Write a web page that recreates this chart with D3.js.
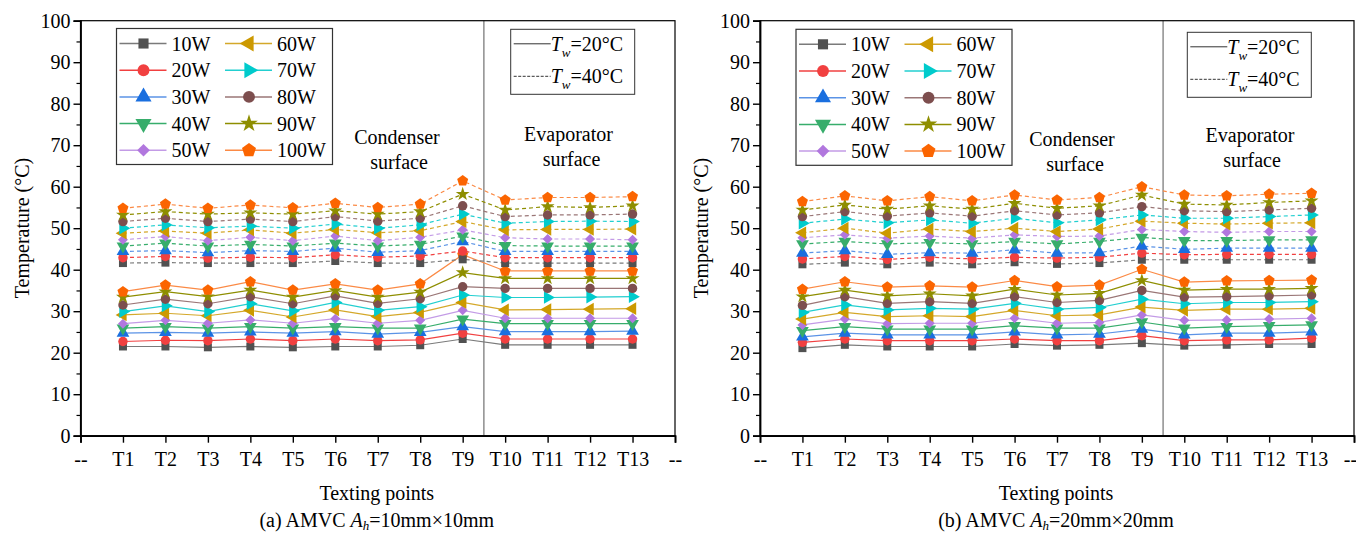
<!DOCTYPE html>
<html>
<head>
<meta charset="utf-8">
<script src="https://cdn.jsdelivr.net/npm/d3@7"></script>
<style>
  body { margin: 0; background: #fff; }
  svg { display: block; font-family: "Liberation Serif", "Times New Roman", serif; }
</style>
</head>
<body>
<svg id="chart" width="1356" height="534"></svg>
<script>
// Testing points along the AMVC
var points = ["T1","T2","T3","T4","T5","T6","T7","T8","T9","T10","T11","T12","T13"];
var powers = ["10W","20W","30W","40W","50W","60W","70W","80W","90W","100W"];
var colors = ["#515151","#F14040","#1A6FDF","#37AD6B","#B177DE","#CC9900","#00CBCC","#7D4E4E","#8E8E00","#FB6501"];
var lineColors = ["#7a7a7a","#F14040","#5b93e6","#37AD6B","#c39be6","#d4a82a","#22cfd0","#9a7676","#8E8E00","#fb8a45"];

// (a) Ah = 10mm x 10mm, Tw = 20 C (solid)
var a20 = [
  [21.5,21.5,21.3,21.5,21.3,21.5,21.5,21.8,23.3,21.9,21.9,21.9,21.9],
  [22.7,23.0,22.9,23.3,22.9,23.3,22.9,23.1,24.7,23.3,23.3,23.3,23.3],
  [24.7,24.9,24.7,25.0,24.7,25.1,24.5,24.9,26.3,25.1,25.1,25.1,25.2],
  [25.9,26.3,25.9,26.3,25.9,26.3,25.9,25.9,28.1,27.0,27.0,27.0,27.0],
  [27.0,27.8,27.1,27.9,27.1,28.2,27.1,27.8,30.2,28.3,28.3,28.3,28.3],
  [29.1,29.5,28.9,30.2,28.6,30.3,28.7,29.7,32.1,30.3,30.4,30.5,30.6],
  [29.9,31.3,29.9,31.8,30.1,32.1,30.2,31.1,33.9,33.3,33.3,33.4,33.5],
  [31.5,32.9,31.8,33.5,31.8,33.7,31.9,33.0,35.9,35.5,35.5,35.5,35.5],
  [33.4,34.7,33.5,35.1,33.4,35.0,33.4,34.6,39.3,37.9,37.9,37.9,37.9],
  [34.7,36.3,35.1,37.1,35.1,36.6,35.1,36.6,43.6,39.7,39.7,39.7,39.7]
];
// (a) Tw = 40 C (dashed)
var a40 = [
  [41.6,41.7,41.6,41.6,41.6,42.1,41.6,41.6,42.5,41.6,41.6,41.6,41.6],
  [42.9,43.2,42.8,43.0,42.9,43.6,43.0,43.3,44.5,42.9,42.9,42.9,42.9],
  [44.4,44.6,44.1,44.6,44.4,45.2,44.2,44.6,46.8,44.4,44.4,44.4,44.4],
  [45.7,46.4,45.7,46.1,45.7,46.4,45.7,46.1,48.1,45.8,45.7,45.7,45.7],
  [47.2,48.0,47.0,47.8,47.0,48.1,47.0,47.8,49.6,47.7,47.4,47.4,47.2],
  [48.8,49.3,48.8,49.6,48.8,49.7,48.9,49.4,51.6,49.6,49.7,49.7,49.8],
  [50.0,50.8,50.1,50.5,50.0,51.0,50.0,50.8,53.4,51.2,51.6,51.7,51.6],
  [51.6,52.4,51.6,52.2,51.6,52.8,51.7,52.4,55.4,52.8,53.2,53.2,53.4],
  [53.2,54.0,53.4,53.7,53.4,54.2,53.4,54.0,58.2,54.4,55.2,55.0,55.4],
  [54.8,55.8,54.8,55.6,54.9,56.0,55.0,55.8,61.4,56.8,57.4,57.4,57.6]
];
// (b) Ah = 20mm x 20mm, Tw = 20 C (solid)
var b20 = [
  [21.1,21.9,21.5,21.5,21.5,22.1,21.7,21.9,22.3,21.7,21.9,22.1,22.1],
  [22.5,23.3,22.9,22.9,22.9,23.3,22.9,22.9,24.1,22.9,23.1,23.1,23.5],
  [23.8,24.7,24.3,24.3,24.3,25.0,24.3,24.5,25.7,24.3,24.7,24.7,25.0],
  [25.3,26.3,25.7,25.7,25.7,26.5,25.9,25.9,27.4,25.9,26.3,26.5,26.7],
  [26.7,28.1,27.0,27.1,27.1,28.3,27.1,27.3,29.1,27.8,27.9,28.1,28.3],
  [28.1,29.7,28.7,28.9,28.7,30.2,28.9,29.1,31.0,30.2,30.5,30.5,30.7],
  [29.7,31.5,30.3,30.7,30.5,31.9,30.5,30.9,32.9,31.8,32.1,32.1,32.3],
  [31.4,33.5,31.9,32.3,31.9,33.5,32.1,32.6,35.0,33.4,33.5,33.7,33.9],
  [33.5,35.1,33.7,34.2,33.7,35.3,33.9,34.3,37.4,35.1,35.3,35.3,35.5],
  [35.3,37.1,35.8,36.1,35.8,37.4,35.9,36.3,40.1,37.0,37.3,37.4,37.5]
];
// (b) Tw = 40 C (dashed)
var b40 = [
  [41.3,41.7,41.3,41.7,41.3,41.8,41.4,41.6,42.4,42.4,42.4,42.4,42.4],
  [42.6,43.2,42.5,43.0,42.6,43.0,42.8,43.0,44.0,43.6,43.7,43.7,43.7],
  [44.0,44.6,43.7,44.1,44.0,44.8,44.0,44.1,45.7,44.9,45.2,45.2,45.2],
  [46.2,46.8,46.2,46.5,46.2,46.8,46.2,46.8,47.8,47.0,47.0,47.2,47.2],
  [47.7,48.4,47.6,48.1,47.6,48.4,48.0,48.1,49.7,49.2,49.0,49.2,49.2],
  [48.9,50.0,48.8,49.8,49.2,50.0,49.2,49.8,51.7,51.2,51.0,51.2,51.3],
  [51.2,52.2,51.3,52.0,51.2,52.4,51.3,52.0,53.2,52.4,52.4,52.8,53.2],
  [52.8,54.0,52.9,53.7,52.9,54.2,53.2,53.7,55.2,54.2,54.0,54.4,54.8],
  [54.4,55.6,54.6,55.4,54.6,56.0,54.8,55.4,58.0,55.8,55.6,56.2,56.6],
  [56.4,57.8,56.6,57.6,56.6,58.0,56.8,57.4,60.0,58.0,57.8,58.2,58.4]
];

// Custom Origin-like pentagon symbol
var symPentagon = {
  draw: function(ctx, size) {
    var r = Math.sqrt(size / 2.38);
    for (var i = 0; i < 5; ++i) {
      var a = -Math.PI / 2 + i * 2 * Math.PI / 5;
      if (i == 0) ctx.moveTo(r * Math.cos(a), r * Math.sin(a));
      else ctx.lineTo(r * Math.cos(a), r * Math.sin(a));
    }
    ctx.closePath();
  }
};
var markers = [
  {type: d3.symbolSquare, rot: 0, size: 64},
  {type: d3.symbolCircle, rot: 0, size: 70},
  {type: d3.symbolTriangle, rot: 0, size: 70},
  {type: d3.symbolTriangle, rot: 180, size: 70},
  {type: d3.symbolSquare, rot: 45, size: 50},
  {type: d3.symbolTriangle, rot: -90, size: 70},
  {type: d3.symbolTriangle, rot: 90, size: 70},
  {type: d3.symbolCircle, rot: 0, size: 70},
  {type: d3.symbolStar, rot: 0, size: 60},
  {type: symPentagon, rot: 0, size: 80}
];

var svg = d3.select("#chart");
var fontSize = 20;

function drawPanel(opt)
{
    var x = d3.scaleLinear().domain([0, 14]).range([opt.x0, opt.x1]);
    var y = d3.scaleLinear().domain([0, 100]).range([435.7, 20.7]);
    var g = svg.append("g");

    // Divider between condenser and evaporator
    g.append("line")
        .attr("x1", x(9.5)).attr("x2", x(9.5))
        .attr("y1", y(0)).attr("y2", y(100))
        .attr("stroke", "#555").attr("stroke-width", 1);

    // Series: lines first, then markers on top
    var line = d3.line()
        .x(function(d, i) { return x(i + 1); })
        .y(function(d) { return y(d); });

    var sets = [{data: opt.solid, dash: null}, {data: opt.dashed, dash: "4,3"}];
    sets.forEach(function(set) {
        set.data.forEach(function(vals, k) {
            g.append("path")
                .attr("d", line(vals))
                .attr("fill", "none")
                .attr("stroke", lineColors[k])
                .attr("stroke-width", 1.2)
                .attr("stroke-dasharray", set.dash);
        });
    });
    sets.forEach(function(set) {
        set.data.forEach(function(vals, k) {
            var m = markers[k];
            var sym = d3.symbol().type(m.type).size(m.size);
            g.append("g").selectAll("path")
                .data(vals)
                .join("path")
                .attr("d", sym)
                .attr("fill", colors[k])
                .attr("transform", function(d, i) {
                    return "translate(" + x(i + 1) + "," + y(d) + ") rotate(" + m.rot + ")";
                });
        });
    });

    // Frame
    g.append("rect")
        .attr("x", x(0)).attr("y", y(100))
        .attr("width", x(14) - x(0)).attr("height", y(0) - y(100))
        .attr("fill", "none").attr("stroke", "#000").attr("stroke-width", 1.2);

    // Y axis
    var yAxis = d3.axisLeft(y).tickValues(d3.range(0, 101, 10)).tickSize(7).tickPadding(3);
    var ya = g.append("g").attr("transform", "translate(" + x(0) + ",0)").call(yAxis);
    ya.select(".domain").attr("stroke-width", 1.8);
    ya.selectAll(".tick line").attr("stroke-width", 1.4);
    ya.selectAll("text").attr("font-size", fontSize).attr("font-family", "Liberation Serif").attr("fill", "#000");
    var yMinor = d3.axisLeft(y).tickValues(d3.range(5, 100, 10)).tickSize(4).tickFormat("");
    g.append("g").attr("transform", "translate(" + x(0) + ",0)").call(yMinor)
        .call(function(s) { s.select(".domain").remove(); s.selectAll("line").attr("stroke-width", 1.2); });

    // X axis
    var xAxis = d3.axisBottom(x).tickValues(d3.range(0, 15)).tickSize(7).tickPadding(9)
        .tickFormat(function(d) { return (d == 0 || d == 14) ? "--" : points[d - 1]; });
    var xa = g.append("g").attr("transform", "translate(0," + y(0) + ")").call(xAxis);
    xa.select(".domain").attr("stroke-width", 1.8);
    xa.selectAll(".tick line").attr("stroke-width", 1.4);
    xa.selectAll("text").attr("font-size", fontSize).attr("font-family", "Liberation Serif").attr("fill", "#000");
    // keep the trailing "--" inside the picture
    xa.selectAll(".tick text").filter(function(d) { return d == 14; }).attr("dx", opt.endShift);

    // Axis titles
    g.append("text")
        .attr("transform", "translate(" + (opt.x0 - 52) + "," + 228 + ") rotate(-90)")
        .attr("text-anchor", "middle").attr("font-size", fontSize)
        .text("Temperature (°C)");
    var cx = (opt.x0 + opt.x1) / 2 - 1;
    g.append("text").attr("x", cx).attr("y", 500)
        .attr("text-anchor", "middle").attr("font-size", fontSize)
        .text("Texting points");
    var cap = g.append("text").attr("x", cx).attr("y", 526.5)
        .attr("text-anchor", "middle").attr("font-size", fontSize);
    cap.append("tspan").text(opt.label + " AMVC ");
    cap.append("tspan").attr("font-style", "italic").text("A");
    cap.append("tspan").attr("font-style", "italic").attr("font-size", 13).attr("dy", 3.5).text("h");
    cap.append("tspan").attr("dy", -3.5).text("=" + opt.size);

    // Region labels
    opt.regions.forEach(function(t) {
        g.append("text").attr("x", t.x).attr("y", t.y)
            .attr("text-anchor", "middle").attr("font-size", fontSize).text(t.text);
    });

    // Power legend
    var lx = opt.x0 + 36, ly = opt.ly;
    g.append("rect").attr("x", lx).attr("y", ly).attr("width", 216).attr("height", 136)
        .attr("fill", "#fff").attr("stroke", "#333").attr("stroke-width", 1.2);
    powers.forEach(function(p, k) {
        var col = Math.floor(k / 5), row = k % 5;
        var ox = lx + 3 + col * 105.5, oy = ly + 15 + row * 26.7;
        g.append("line").attr("x1", ox).attr("x2", ox + 47).attr("y1", oy).attr("y2", oy)
            .attr("stroke", lineColors[k]).attr("stroke-width", 1.5);
        var m = markers[k];
        g.append("path").attr("d", d3.symbol().type(m.type).size(m.size * 1.6)())
            .attr("fill", colors[k])
            .attr("transform", "translate(" + (ox + 24) + "," + oy + ") rotate(" + m.rot + ")");
        g.append("text").attr("x", ox + 52).attr("y", oy + 7)
            .attr("font-size", fontSize).text(p);
    });

    // Water temperature legend
    var tx = opt.tw[0], ty = opt.tw[1];
    g.append("rect").attr("x", tx).attr("y", ty).attr("width", 124).attr("height", 65)
        .attr("fill", "#fff").attr("stroke", "#333").attr("stroke-width", 1);
    [["20", null, 14.5], ["40", "3,1.5", 47]].forEach(function(r) {
        g.append("line").attr("x1", tx + 3).attr("x2", tx + 40)
            .attr("y1", ty + r[2]).attr("y2", ty + r[2])
            .attr("stroke", "#333").attr("stroke-width", 1).attr("stroke-dasharray", r[1]);
        var t = g.append("text").attr("x", tx + 40).attr("y", ty + r[2] + 7).attr("font-size", fontSize);
        t.append("tspan").attr("font-style", "italic").text("T");
        t.append("tspan").attr("font-style", "italic").attr("font-size", 13).attr("dy", 6).text("w");
        t.append("tspan").attr("dy", -6).text("=" + r[0] + "°C");
    });
}

drawPanel({x0: 80.5, x1: 675, solid: a20, dashed: a40, label: "(a)", size: "10mm×10mm",
           ly: 28.5, tw: [510.7, 29.3], endShift: 0,
           regions: [{text: "Condenser", x: 397, y: 143.5}, {text: "surface", x: 399, y: 169},
                     {text: "Evaporator", x: 568.5, y: 140.5}, {text: "surface", x: 571.5, y: 166}]});
drawPanel({x0: 760, x1: 1354, solid: b20, dashed: b40, label: "(b)", size: "20mm×20mm",
           ly: 29.3, tw: [1187.3, 32.3], endShift: -4,
           regions: [{text: "Condenser", x: 1072, y: 145.5}, {text: "surface", x: 1075, y: 171},
                     {text: "Evaporator", x: 1250, y: 141.5}, {text: "surface", x: 1252, y: 167}]});
</script>
</body>
</html>
